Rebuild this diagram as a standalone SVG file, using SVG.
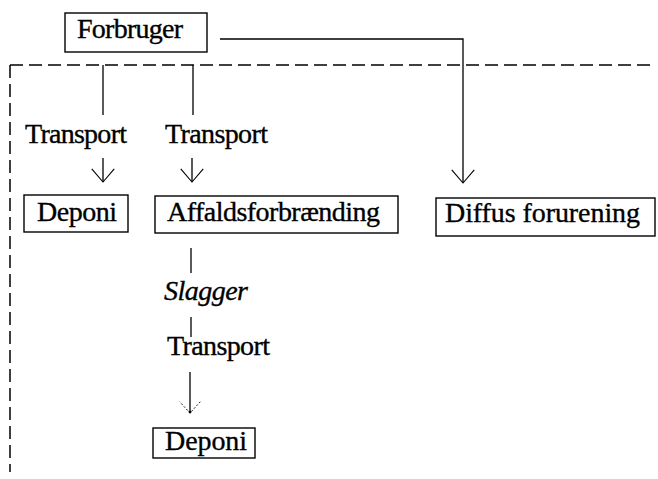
<svg xmlns="http://www.w3.org/2000/svg" width="658" height="479" viewBox="0 0 658 479">
  <style>
    .box { fill: #fff; stroke: #000; stroke-width: 1.4; }
    .lbl { font-family: "Liberation Serif", "Times New Roman", Times, serif; font-size: 28px; fill: #000; stroke: #000; stroke-width: 0.35; }
    .it { font-style: italic; }
    .ln { fill: none; stroke: #000; stroke-width: 1.3; }
    .dash { fill: none; stroke: #000; stroke-width: 1.5; stroke-dasharray: 13 6; }
  </style>
  <defs>
    <marker id="vee" markerUnits="userSpaceOnUse" markerWidth="30" markerHeight="30" viewBox="-16 -16 32 32" refX="0" refY="0" orient="auto">
      <path d="M-14,-12 L0,0 L-14,12" fill="none" stroke="#000" stroke-width="1.2"/>
    </marker>
    <marker id="vee-faint" markerUnits="userSpaceOnUse" markerWidth="30" markerHeight="30" viewBox="-16 -16 32 32" refX="0" refY="0" orient="auto">
      <path d="M-12,-11 L0,0 L-12,11" fill="none" stroke="#000" stroke-width="1" stroke-dasharray="2 2"/>
      <circle cx="-1" cy="0" r="1.5" fill="#000"/>
    </marker>
  </defs>

  <!-- system boundary -->
  <g id="boundary">
    <path class="dash" d="M10,65 H655"/>
    <path class="dash" d="M10,65 V472"/>
  </g>

  <g id="connectors">
    <!-- consumer to diffuse pollution -->
    <path class="ln" d="M220,39 H463 V183" marker-end="url(#vee)"/>
    <!-- boundary to the two transport branches -->
    <path class="ln" d="M103,65 V115"/>
    <path class="ln" d="M193,65 V115"/>
    <path class="ln" d="M103,158 V182" marker-end="url(#vee)"/>
    <path class="ln" d="M192,158 V182" marker-end="url(#vee)"/>
    <!-- slag route -->
    <path class="ln" d="M191,248 V273"/>
    <path class="ln" d="M191,317 V337"/>
    <path class="ln" d="M190,372 V413" marker-end="url(#vee-faint)" stroke-width="1"/>
  </g>

  <g id="forbruger">
    <rect class="box" x="65" y="13" width="142" height="39"/>
    <text class="lbl" x="77" y="38" textLength="106">Forbruger</text>
  </g>

  <g id="transport-1">
    <text class="lbl" x="25" y="143" textLength="102">Transport</text>
  </g>
  <g id="transport-2">
    <text class="lbl" x="165" y="143" textLength="103">Transport</text>
  </g>

  <g id="deponi-1">
    <rect class="box" x="24" y="195" width="104" height="37"/>
    <text class="lbl" x="37" y="221" textLength="80">Deponi</text>
  </g>

  <g id="affaldsforbraending">
    <rect class="box" x="155" y="196" width="243" height="37"/>
    <text class="lbl" x="167" y="221" textLength="213">Affaldsforbrænding</text>
  </g>

  <g id="diffus-forurening">
    <rect class="box" x="436" y="198" width="219" height="38"/>
    <text class="lbl" x="445" y="222" textLength="195">Diffus forurening</text>
  </g>

  <g id="slagger">
    <text class="lbl it" x="164" y="300" textLength="84">Slagger</text>
  </g>

  <g id="transport-3">
    <text class="lbl" x="167" y="355" textLength="103">Transport</text>
  </g>

  <g id="deponi-2">
    <rect class="box" x="153" y="428" width="102" height="30"/>
    <text class="lbl" x="165" y="450" textLength="82">Deponi</text>
  </g>
</svg>
